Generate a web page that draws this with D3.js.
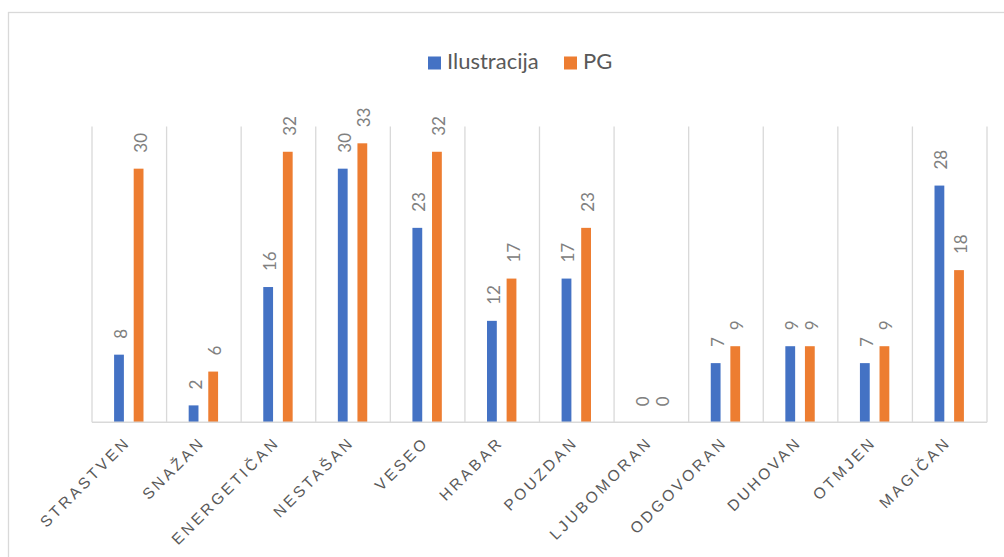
<!DOCTYPE html>
<html>
<head>
<meta charset="utf-8">
<script src="https://cdn.jsdelivr.net/npm/d3@7"></script>
<style>
  html, body { margin: 0; padding: 0; background: #ffffff; }
  svg { display: block; }
</style>
</head>
<body>
<svg id="chart" width="1004" height="557"></svg>
<script>
// Category names along the x axis
const categories = ["STRASTVEN", "SNAŽAN", "ENERGETIČAN", "NESTAŠAN", "VESEO", "HRABAR",
                    "POUZDAN", "LJUBOMORAN", "ODGOVORAN", "DUHOVAN", "OTMJEN", "MAGIČAN"];
// Series names and values
const seriesNames = ["Ilustracija", "PG"];
const ilustracija = [8, 2, 16, 30, 23, 12, 17, 0, 7, 9, 7, 28];
const pg = [30, 6, 32, 33, 32, 17, 23, 0, 9, 9, 9, 18];
const seriesColors = ["#4472c4", "#ed7d31"];
const valueMax = 35;

const svg = d3.select("#chart");

// Outer chart frame
svg.append("rect")
  .attr("x", 8.5).attr("y", 12.5)
  .attr("width", 1010).attr("height", 560)
  .attr("fill", "none")
  .attr("stroke", "#d9d9d9")
  .attr("stroke-width", 1.3);

const plot = { left: 92, right: 987, top: 126.4, bottom: 422.3 };

const x0 = d3.scaleBand().domain(categories).range([plot.left, plot.right]).padding(0);
const x1 = d3.scaleBand().domain(seriesNames).range([0, 29.4]).paddingInner(0.5);
const y = d3.scaleLinear().domain([0, valueMax]).range([plot.bottom, plot.top]);

// Vertical separators between categories
const bounds = categories.map(c => x0(c)).concat([plot.right]);
svg.append("g").selectAll("line").data(bounds).join("line")
  .attr("x1", d => d).attr("x2", d => d)
  .attr("y1", plot.top).attr("y2", plot.bottom)
  .attr("stroke", "#d9d9d9").attr("stroke-width", 1.3);

// Bars
const rows = categories.map((c, i) => ({ cat: c, vals: [ilustracija[i], pg[i]] }));
const groups = svg.append("g").selectAll("g").data(rows).join("g")
  .attr("transform", d => `translate(${x0(d.cat) + x0.bandwidth() / 2 - 15.2},0)`);

groups.selectAll("rect")
  .data(d => d.vals.map((v, k) => ({ s: seriesNames[k], v, k })))
  .join("rect")
  .attr("x", d => x1(d.s))
  .attr("y", d => y(d.v))
  .attr("width", x1.bandwidth())
  .attr("height", d => y(0) - y(d.v))
  .attr("fill", d => seriesColors[d.k]);

// Value labels, rotated, above each bar
groups.selectAll("text")
  .data(d => d.vals.map((v, k) => ({ s: seriesNames[k], v, k })))
  .join("text")
  .attr("transform", d => `translate(${x1(d.s) + x1.bandwidth() / 2 + 8},${y(d.v) - 16}) rotate(-90)`)
  .attr("font-family", "Lato, 'Open Sans', sans-serif")
  .attr("font-size", 17)
  .attr("fill", "#808080")
  .text(d => d.v);

// X axis line
svg.append("line")
  .attr("x1", plot.left).attr("x2", plot.right)
  .attr("y1", plot.bottom).attr("y2", plot.bottom)
  .attr("stroke", "#d9d9d9").attr("stroke-width", 1.5);

// Category labels, angled
svg.append("g").selectAll("text").data(categories).join("text")
  .attr("transform", d => `translate(${x0(d) + x0.bandwidth() / 2 + 2},${plot.bottom + 21}) rotate(-45)`)
  .attr("text-anchor", "end")
  .attr("font-family", "'Liberation Sans', Arial, sans-serif")
  .attr("font-size", 15.5)
  .attr("letter-spacing", "3px")
  .attr("fill", "#595959")
  .text(d => d);

// Legend
const legendItems = [
  { name: seriesNames[0], color: seriesColors[0], x: 428 },
  { name: seriesNames[1], color: seriesColors[1], x: 564 }
];
const lg = svg.append("g").selectAll("g").data(legendItems).join("g")
  .attr("transform", d => `translate(${d.x},0)`);
lg.append("rect")
  .attr("x", 0).attr("y", 56.5)
  .attr("width", 13).attr("height", 13)
  .attr("fill", d => d.color);
lg.append("text")
  .attr("x", 19).attr("y", 69)
  .attr("font-family", "Lato, 'Open Sans', sans-serif")
  .attr("font-size", 22)
  .attr("fill", "#595959")
  .text(d => d.name);
</script>
</body>
</html>
